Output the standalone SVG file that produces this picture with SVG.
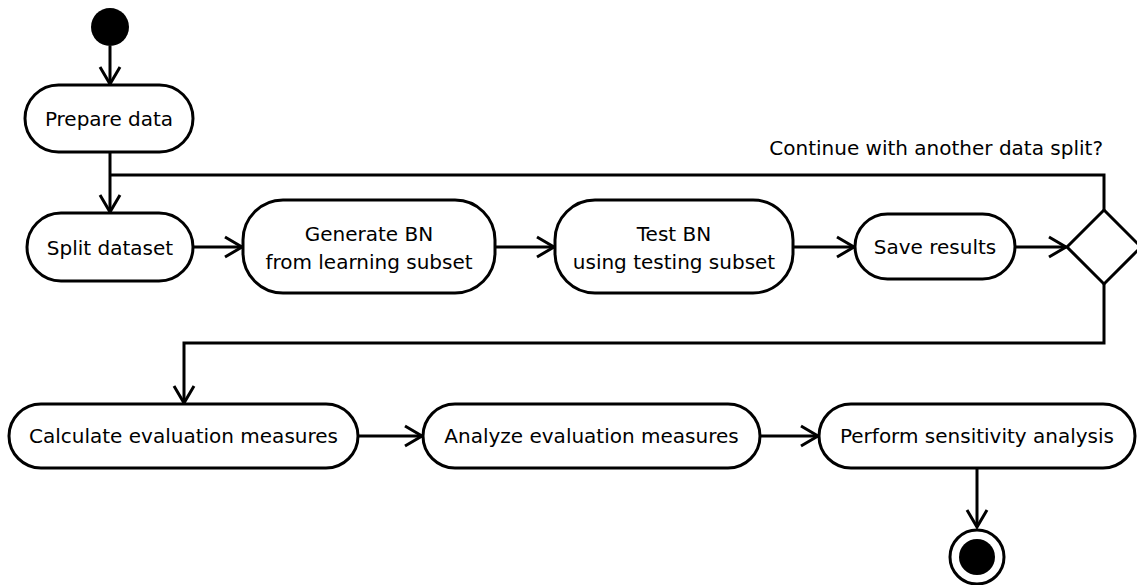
<svg xmlns="http://www.w3.org/2000/svg" width="1137" height="585" viewBox="0 0 1137 585">
<style>
.n{fill:#fff;stroke:#000;stroke-width:3}
.t{font-family:"DejaVu Sans",Verdana,sans-serif;font-size:20px;fill:#000;text-anchor:middle}
.c{fill:none;stroke:#000;stroke-width:3}
</style>
<defs>
<marker id="ah" markerUnits="userSpaceOnUse" markerWidth="24" markerHeight="26" viewBox="-20 -13 24 26" refX="0" refY="0" orient="auto">
<path d="M -17 -10 L 0 0 L -17 10" fill="none" stroke="#000" stroke-width="3"/>
</marker>
</defs>
<rect width="1137" height="585" fill="#fff"/>
<g id="connectors">
<line class="c" x1="110" y1="46" x2="110" y2="84" marker-end="url(#ah)"/>
<line class="c" x1="110" y1="152" x2="110" y2="212" marker-end="url(#ah)"/>
<line class="c" x1="193" y1="247" x2="242" y2="247" marker-end="url(#ah)"/>
<line class="c" x1="495" y1="247" x2="554" y2="247" marker-end="url(#ah)"/>
<line class="c" x1="793" y1="247" x2="854" y2="247" marker-end="url(#ah)"/>
<line class="c" x1="1015" y1="247" x2="1066" y2="247" marker-end="url(#ah)"/>
<polyline class="c" points="1104,210 1104,175 110,175"/>
<polyline class="c" points="1104,284 1104,343 184,343 184,403" marker-end="url(#ah)"/>
<line class="c" x1="358" y1="436" x2="422" y2="436" marker-end="url(#ah)"/>
<line class="c" x1="760" y1="436" x2="818" y2="436" marker-end="url(#ah)"/>
<line class="c" x1="977" y1="469" x2="977" y2="527" marker-end="url(#ah)"/>
<text class="t" x="1103" y="155" style="text-anchor:end">Continue with another data split?</text>
</g>
<g id="start"><circle cx="110" cy="27" r="19" fill="#000"/></g>
<g id="prepare"><rect class="n" x="25" y="85" width="168" height="67" rx="33.5"/><text class="t" x="109" y="126">Prepare data</text></g>
<g id="split"><rect class="n" x="27" y="213" width="166" height="68" rx="34"/><text class="t" x="110" y="255">Split dataset</text></g>
<g id="generate"><rect class="n" x="243" y="200" width="252" height="93" rx="40"/><text class="t" x="369" y="241">Generate BN</text><text class="t" x="369" y="269">from learning subset</text></g>
<g id="test"><rect class="n" x="555" y="200" width="238" height="93" rx="40"/><text class="t" x="674" y="241">Test BN</text><text class="t" x="674" y="269">using testing subset</text></g>
<g id="save"><rect class="n" x="855" y="214" width="160" height="65" rx="32.5"/><text class="t" x="935" y="254">Save results</text></g>
<g id="decision"><polygon class="n" points="1104,210 1141,247 1104,284 1067,247"/></g>
<g id="calculate"><rect class="n" x="9" y="404" width="349" height="64" rx="32"/><text class="t" x="183.5" y="443">Calculate evaluation measures</text></g>
<g id="analyze"><rect class="n" x="423" y="404" width="337" height="64" rx="32"/><text class="t" x="591.5" y="443">Analyze evaluation measures</text></g>
<g id="perform"><rect class="n" x="819" y="404" width="316" height="64" rx="32"/><text class="t" x="977" y="443">Perform sensitivity analysis</text></g>
<g id="end"><circle cx="977" cy="557" r="27" fill="#fff" stroke="#000" stroke-width="3"/><circle cx="977" cy="557" r="18" fill="#000"/></g>
</svg>
